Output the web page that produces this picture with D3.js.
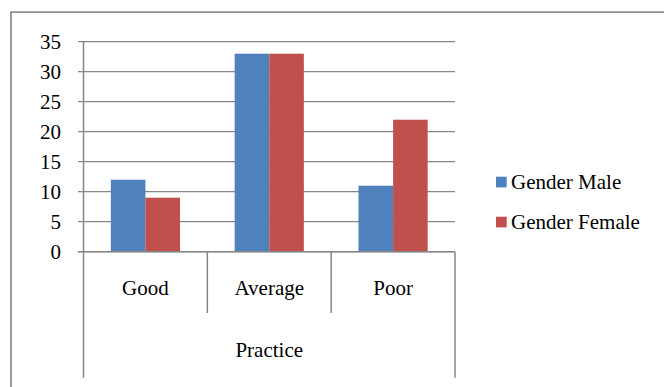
<!DOCTYPE html>
<html>
<head>
<meta charset="utf-8">
<script src="https://cdn.jsdelivr.net/npm/d3@7/dist/d3.min.js"></script>
</head>
<body style="margin:0">
<svg id="chart" width="664" height="387" style="display:block"></svg>
<script>
// Data
const categories = ["Good", "Average", "Poor"];
const seriesNames = ["Gender Male", "Gender Female"];
const maleValues = [12, 33, 11];
const femaleValues = [9, 33, 22];
const yTicks = [0, 5, 10, 15, 20, 25, 30, 35];
const axisTitle = "Practice";

const colors = ["#4F81BD", "#C0504D"];
const gridColor = "#878787";
const fontSize = 21;

// Apply the chart typeface to a text selection
function serif(sel) {
  sel.attr("font-size", fontSize)
    .style("font-family", "'Liberation Serif', monospace");
}

const svg = d3.select("#chart");

// Outer chart frame (only left and top edges fall inside the view)
svg.append("path")
  .attr("d", "M11,390 V12 H670")
  .attr("fill", "none")
  .attr("stroke", "#8e8e8e")
  .attr("stroke-width", 1.75);

const plot = { left: 83.5, right: 455, top: 41.7, bottom: 251.7 };

const y = d3.scaleLinear().domain([0, 35]).range([plot.bottom, plot.top]);
const x0 = d3.scaleBand().domain(categories).range([plot.left, plot.right]).paddingInner(0).paddingOuter(0);
const x1 = d3.scaleBand().domain(seriesNames).range([0, x0.bandwidth()]).paddingInner(0).paddingOuter(0.79);

// Horizontal gridlines with tick marks left of the axis
svg.append("g").selectAll("line")
  .data(yTicks)
  .join("line")
  .attr("x1", plot.left - 5.5)
  .attr("x2", plot.right)
  .attr("y1", d => y(d))
  .attr("y2", d => y(d))
  .attr("stroke", gridColor)
  .attr("stroke-width", 1.3);

// Y tick labels
svg.append("g").selectAll("text")
  .data(yTicks)
  .join("text")
  .attr("x", 61)
  .attr("y", d => y(d) + 7.3)
  .attr("text-anchor", "end")
  .call(serif)
  .text(d => d);

// Bars
const rows = categories.map((c, i) => ({ cat: c, vals: [maleValues[i], femaleValues[i]] }));
const groups = svg.append("g").selectAll("g")
  .data(rows)
  .join("g")
  .attr("transform", d => `translate(${x0(d.cat)},0)`);

groups.selectAll("rect")
  .data(d => d.vals.map((v, k) => ({ name: seriesNames[k], v, k })))
  .join("rect")
  .attr("x", d => x1(d.name))
  .attr("width", x1.bandwidth())
  .attr("y", d => y(d.v))
  .attr("height", d => y(0) - y(d.v))
  .attr("fill", d => colors[d.k]);

// Axis lines
const axisG = svg.append("g").attr("stroke", gridColor).attr("stroke-width", 1.5);
const subBottom = 313;
const outerBottom = 377.7;
// y axis line, continuing down through the category label area
axisG.append("line")
  .attr("x1", plot.left).attr("x2", plot.left)
  .attr("y1", plot.top).attr("y2", outerBottom);
// right edge of label area
axisG.append("line")
  .attr("x1", plot.right).attr("x2", plot.right)
  .attr("y1", plot.bottom).attr("y2", outerBottom);
// dividers between categories
axisG.selectAll("line.div")
  .data(categories.slice(1))
  .join("line")
  .attr("class", "div")
  .attr("x1", d => x0(d)).attr("x2", d => x0(d))
  .attr("y1", plot.bottom).attr("y2", subBottom);
// baseline
axisG.append("line")
  .attr("x1", plot.left - 5.5).attr("x2", plot.right)
  .attr("y1", y(0)).attr("y2", y(0));

// Category labels
svg.append("g").selectAll("text")
  .data(categories)
  .join("text")
  .attr("x", d => x0(d) + x0.bandwidth() / 2)
  .attr("y", 294.5)
  .attr("text-anchor", "middle")
  .call(serif)
  .text(d => d);

// Group title
svg.append("text")
  .attr("x", (plot.left + plot.right) / 2)
  .attr("y", 357)
  .attr("text-anchor", "middle")
  .call(serif)
  .text(axisTitle);

// Legend
const legend = svg.append("g").selectAll("g")
  .data(seriesNames)
  .join("g")
  .attr("transform", (d, i) => `translate(496,${176.7 + i * 40})`);
legend.append("rect")
  .attr("width", 10.7)
  .attr("height", 10.7)
  .attr("fill", (d, i) => colors[i]);
legend.append("text")
  .attr("x", 15)
  .attr("y", 12.6)
  .call(serif)
  .text(d => d);
</script>
</body>
</html>
